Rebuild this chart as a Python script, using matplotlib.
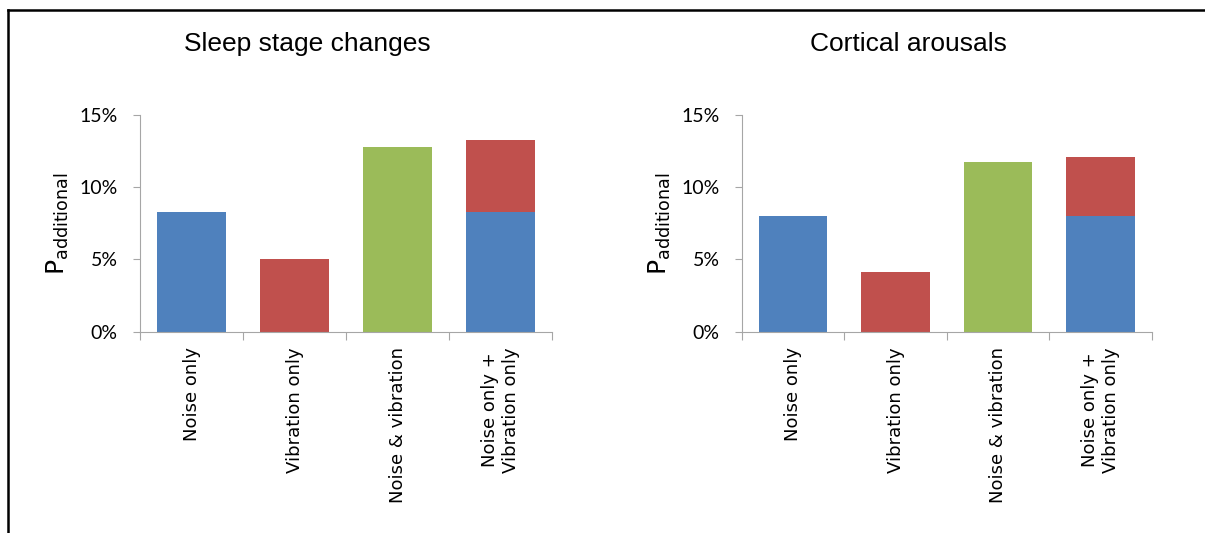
import numpy as np
import matplotlib.pyplot as plt
from matplotlib.lines import Line2D
from matplotlib.ticker import FuncFormatter

categories = ["Noise only", "Vibration only", "Noise & vibration",
              "Noise only +\nVibration only"]

# values in percent
sleep_noise = [8.3, 0, 0, 8.3]
sleep_vib = [0, 5.0, 0, 5.0]
sleep_both = [0, 0, 12.8, 0]

arousal_noise = [8.0, 0, 0, 8.0]
arousal_vib = [0, 4.1, 0, 4.1]
arousal_both = [0, 0, 11.75, 0]

titles = ["Sleep stage changes", "Cortical arousals"]
yticks = [0, 5, 10, 15]

blue = "#4F81BD"
red = "#C0504D"
green = "#9BBB59"
grey = "#A6A6A6"

fig = plt.figure(figsize=(12.05, 5.33), dpi=100)

# positions in figure fraction
ax_pos = [[0.1162, 0.3777, 0.3419, 0.4065],
          [0.6155, 0.3777, 0.3405, 0.4065]]
title_x = [0.255, 0.754]

data = [(sleep_noise, sleep_vib, sleep_both),
        (arousal_noise, arousal_vib, arousal_both)]

for i in range(2):
    ax = fig.add_axes(ax_pos[i])
    noise, vib, both = data[i]
    x = np.arange(len(categories))
    w = 0.67
    ax.bar(x, noise, width=w, color=blue, linewidth=0)
    ax.bar(x, vib, width=w, bottom=noise, color=red, linewidth=0)
    ax.bar(x, both, width=w, color=green, linewidth=0)

    ax.set_xlim(-0.5, 3.5)
    ax.set_ylim(0, 15)
    ax.set_yticks(yticks)
    ax.yaxis.set_major_formatter(FuncFormatter(lambda v, p: "%d%%" % v))
    ax.tick_params(axis="y", direction="out", length=5, width=0.8, color=grey,
                   pad=11, labelsize=14)
    for lab in ax.get_yticklabels():
        lab.set_family("Lato")

    ax.set_xticks(x)
    ax.set_xticklabels(categories, rotation=90, fontsize=13, va="top",
                       ha="center", multialignment="center",
                       family="DejaVu Sans", linespacing=1.25)
    ax.set_xticks(np.arange(-0.5, 4, 1), minor=True)
    ax.tick_params(axis="x", which="major", length=0, pad=11)
    ax.tick_params(axis="x", which="minor", direction="out", length=6,
                   width=0.8, color=grey)

    for s in ["top", "right"]:
        ax.spines[s].set_visible(False)
    for s in ["left", "bottom"]:
        ax.spines[s].set_color(grey)
        ax.spines[s].set_linewidth(0.8)

    ax.set_ylabel(r"$\mathrm{P}_{\mathrm{additional}}$", fontsize=18, labelpad=6)

    fig.text(title_x[i], 0.918, titles[i], fontsize=19, ha="center",
             va="center", family="Liberation Sans")

# frame lines along the top and left edge
fig.add_artist(Line2D([0.0066, 1.0], [0.9812, 0.9812], color="black",
                      linewidth=1.8, transform=fig.transFigure))
fig.add_artist(Line2D([0.0066, 0.0066], [0.0, 0.9812], color="black",
                      linewidth=1.8, transform=fig.transFigure))

fig.savefig("out.png", dpi=100)
